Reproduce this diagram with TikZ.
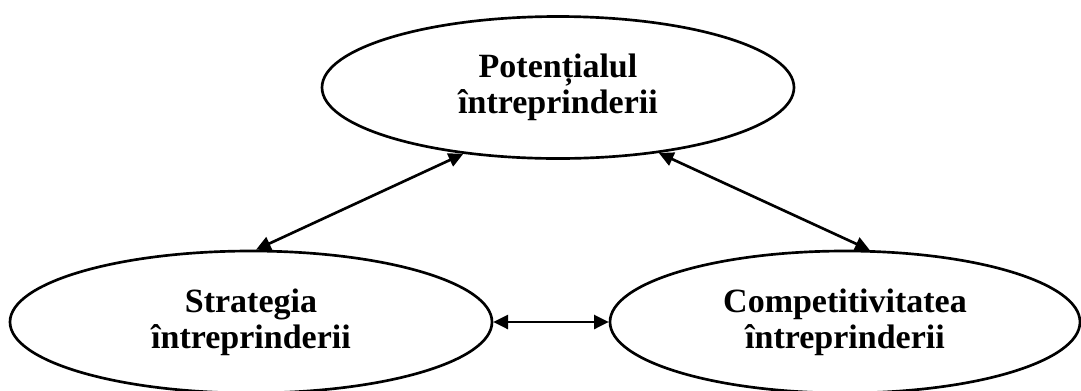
\documentclass[tikz,border=0pt]{standalone}
\usepackage{fontspec}
\setmainfont{Liberation Serif}
\usetikzlibrary{shapes.geometric,arrows.meta}
\begin{document}
\begin{tikzpicture}[x=0.75pt,y=-0.75pt,
  oval/.style={ellipse,draw,line width=2pt,inner sep=0pt,align=center,
    font=\fontsize{25.5}{27}\selectfont\bfseries},
  link/.style={line width=2pt,
    {Triangle[length=11pt,width=10.5pt]}-{Triangle[length=11pt,width=10.5pt]}}]
  \useasboundingbox (0,0) rectangle (1081,390);
  \clip (0,0) rectangle (1081,390);
  % the three factors
  \node[oval,minimum width=354pt,minimum height=106.5pt] (pot) at (558,87.5)
    {Potențialul\\întreprinderii};
  \node[oval,minimum width=361.5pt,minimum height=106.5pt] (str) at (251,322)
    {Strategia\\întreprinderii};
  \node[oval,minimum width=352.5pt,minimum height=106.5pt] (com) at (845,322)
    {Competitivitatea\\întreprinderii};
  % mutual relations
  \draw[link] (pot.215) -- (str.86);
  \draw[link] (pot.327) -- (com.71);
  \draw[link] (str.east) -- (com.west);
\end{tikzpicture}
\end{document}
